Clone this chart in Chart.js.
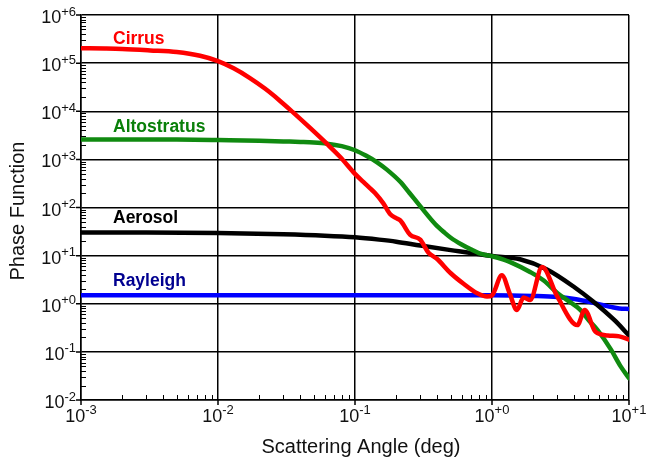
<!DOCTYPE html>
<html><head><meta charset="utf-8">
<script src="https://cdn.jsdelivr.net/npm/chart.js@4"></script>
<style>html,body{margin:0;padding:0;background:#fff}#wrap{width:651px;height:460px}</style>
</head><body><div id="wrap"><canvas id="c" width="651" height="460"></canvas></div>
<script>
// ---- data ----
const cirrusAngle = [0.001,0.0015,0.002,0.0032,0.005,0.0074,0.01,0.013,0.017,0.022,0.028,0.035,0.047,0.062,0.078,0.1,0.115,0.129,0.14,0.161,0.181,0.2,0.214,0.253,0.299,0.344,0.396,0.5,0.62,0.78,0.92,1.0,1.18,1.35,1.52,1.7,1.9,2.32,3.0,4.2,4.75,5.7,7.0,8.5,10];
const cirrusValue = [2.04e5,2.01e5,1.97e5,1.84e5,1.7e5,1.42e5,1.1e5,7.8e4,4.95e4,2.96e4,1.7e4,9.7e3,4.5e3,2.14e3,1.12e3,500,340,250,200,122,72,60,54,27,21.5,11.5,8.6,4.3,2.6,1.65,1.42,1.5,3.9,1.6,0.74,1.35,1.2,5.8,1.4,0.36,0.74,0.26,0.22,0.21,0.18];

const altoAngle = [0.001,0.003,0.005,0.01,0.02,0.03,0.04,0.05,0.0625,0.08,0.1,0.12,0.145,0.17,0.214,0.25,0.299,0.386,0.45,0.5,0.6,0.7,0.8,0.9,1.0,1.2,1.36,1.91,2.4,3.01,3.6,4.43,5.1,5.9,7.35,8.69,10];
const altoValue = [2.6e3,2.6e3,2.58e3,2.52e3,2.45e3,2.36e3,2.3e3,2.24e3,2.12e3,1.88e3,1.55e3,1.2e3,870,620,342,200,107,45,30,23.5,17,13.5,11.3,10.3,9.7,8.4,7.33,4.53,3.0,1.66,1.15,0.736,0.45,0.282,0.114,0.05,0.0284];

const aerosolAngle = [0.001,0.003,0.01,0.03,0.06,0.1,0.15,0.2,0.3,0.5,1.0,1.6,2.5,4.0,5.5,7.8,10];
const aerosolValue = [30.3,30.2,29.5,27.8,26,24,21.5,19.5,16.2,13,9.8,8.4,5.2,2.2,1.1,0.46,0.22];

const rayleighAngle = [0.001,0.01,0.1,1.0,2.0,3.0,4.0,5.2,6.5,7.5,8.5,10];
const rayleighValue = [1.5,1.5,1.5,1.5,1.45,1.38,1.25,1.08,0.93,0.85,0.8,0.78];

const seriesNames = ['Cirrus','Altostratus','Aerosol','Rayleigh'];
const xTickExponents = [-3,-2,-1,0,1];
const xTickLabels = ['-3','-2','-1','+0','+1'];
const yTickExponents = [-2,-1,0,1,2,3,4,5,6];
const yTickLabels = ['-2','-1','+0','+1','+2','+3','+4','+5','+6'];
const xTitle = 'Scattering Angle (deg)';
const yTitle = 'Phase Function';

// ---- styles ----
const FONT = '"Liberation Sans", Arial, sans-serif';
const lineColors = ['#ff0000','#108a10','#000000','#0000ff'];
const labelColors = ['#ff0000','#0a800a','#000000','#000090'];
const labelBaselines = [44,132,223,286];

function pts(xs, ys){ return xs.map((v,i)=>({x:v,y:ys[i]})); }

const ds = [
  pts(cirrusAngle, cirrusValue),
  pts(altoAngle, altoValue),
  pts(aerosolAngle, aerosolValue),
  pts(rayleighAngle, rayleighValue)
].map((d,i)=>({
  label: seriesNames[i], data: d, borderColor: lineColors[i], backgroundColor: lineColors[i],
  borderWidth: 4.5, pointRadius: 0, fill: false, cubicInterpolationMode: 'monotone',
  borderCapStyle: 'round', borderJoinStyle: 'round'
}));

const deco = {
  id: 'deco',
  beforeDatasetsDraw(chart){
    const {ctx, chartArea:a, scales:{x,y}} = chart;
    ctx.save();
    ctx.strokeStyle = '#000'; ctx.lineWidth = 1;
    ctx.beginPath();
    for (let e = -3; e < 1; e++) for (let m = 2; m <= 9; m++) {
      const px = Math.round(x.getPixelForValue(m * Math.pow(10, e))) + 0.5;
      ctx.moveTo(px, a.bottom); ctx.lineTo(px, a.bottom - 5);
    }
    for (let e = -2; e < 6; e++) for (let m = 2; m <= 9; m++) {
      const py = Math.round(y.getPixelForValue(m * Math.pow(10, e))) + 0.5;
      ctx.moveTo(a.left, py); ctx.lineTo(a.left + 5, py);
    }
    ctx.stroke();
    ctx.lineWidth = 1.5;
    ctx.beginPath();
    xTickExponents.forEach(e => {
      const px = x.getPixelForValue(Math.pow(10, e));
      ctx.moveTo(px, a.bottom); ctx.lineTo(px, a.bottom + 5);
    });
    yTickExponents.forEach(e => {
      const py = y.getPixelForValue(Math.pow(10, e));
      ctx.moveTo(a.left, py); ctx.lineTo(a.left - 5, py);
    });
    ctx.stroke();
    ctx.restore();
  },
  afterDraw(chart){
    const {ctx, chartArea:a, scales:{x,y}} = chart;
    ctx.save();
    ctx.fillStyle = '#111';
    const baseFont = '18px ' + FONT, supFont = '13px ' + FONT;
    yTickExponents.forEach((e,i) => {
      const py = y.getPixelForValue(Math.pow(10, e));
      ctx.font = supFont; const ws = ctx.measureText(yTickLabels[i]).width;
      ctx.font = baseFont; const wb = ctx.measureText('10').width;
      const right = a.left - 5;
      ctx.textAlign = 'left'; ctx.textBaseline = 'alphabetic';
      ctx.font = baseFont; ctx.fillText('10', right - ws - wb, py + 8);
      ctx.font = supFont; ctx.fillText(yTickLabels[i], right - ws, py + 0.5);
    });
    xTickExponents.forEach((e,i) => {
      const px = x.getPixelForValue(Math.pow(10, e));
      ctx.font = supFont; const ws = ctx.measureText(xTickLabels[i]).width;
      ctx.font = baseFont; const wb = ctx.measureText('10').width;
      const left = px - (ws + wb) / 2;
      ctx.textAlign = 'left'; ctx.textBaseline = 'alphabetic';
      ctx.font = baseFont; ctx.fillText('10', left, a.bottom + 22);
      ctx.font = supFont; ctx.fillText(xTickLabels[i], left + wb, a.bottom + 14);
    });
    ctx.font = '20px ' + FONT; ctx.fillStyle = '#111';
    ctx.textAlign = 'center'; ctx.textBaseline = 'alphabetic';
    ctx.fillText(xTitle, 361, 453);
    ctx.save();
    ctx.translate(24, 211); ctx.rotate(-Math.PI/2);
    ctx.fillText(yTitle, 0, 0);
    ctx.restore();
    ctx.font = 'bold 17.5px ' + FONT; ctx.textAlign = 'left';
    seriesNames.forEach((n,i) => {
      ctx.fillStyle = labelColors[i];
      ctx.fillText(n, 113, labelBaselines[i]);
    });
    ctx.restore();
  }
};

new Chart(document.getElementById('c'), {
  type: 'line',
  data: { datasets: ds },
  options: {
    responsive: false, animation: false, devicePixelRatio: 1,
    layout: { padding: { top: 15, right: 22, left: 0, bottom: 0 } },
    plugins: { legend: { display: false }, tooltip: { enabled: false } },
    scales: {
      x: {
        type: 'logarithmic', min: 1e-3, max: 10,
        afterBuildTicks(s){ s.ticks = xTickExponents.map(e => ({value: Math.pow(10, e)})); },
        afterFit(s){ s.height = 60; },
        ticks: { display: false },
        grid: { color: '#000', lineWidth: 1.5, drawTicks: false },
        border: { display: true, color: '#000', width: 1.5 }
      },
      y: {
        type: 'logarithmic', min: 1e-2, max: 1e6,
        afterBuildTicks(s){ s.ticks = yTickExponents.map(e => ({value: Math.pow(10, e)})); },
        afterFit(s){ s.width = 81; },
        ticks: { display: false },
        grid: { color: '#000', lineWidth: 1.5, drawTicks: false },
        border: { display: true, color: '#000', width: 1.5 }
      }
    }
  },
  plugins: [deco]
});
</script>
</body></html>
